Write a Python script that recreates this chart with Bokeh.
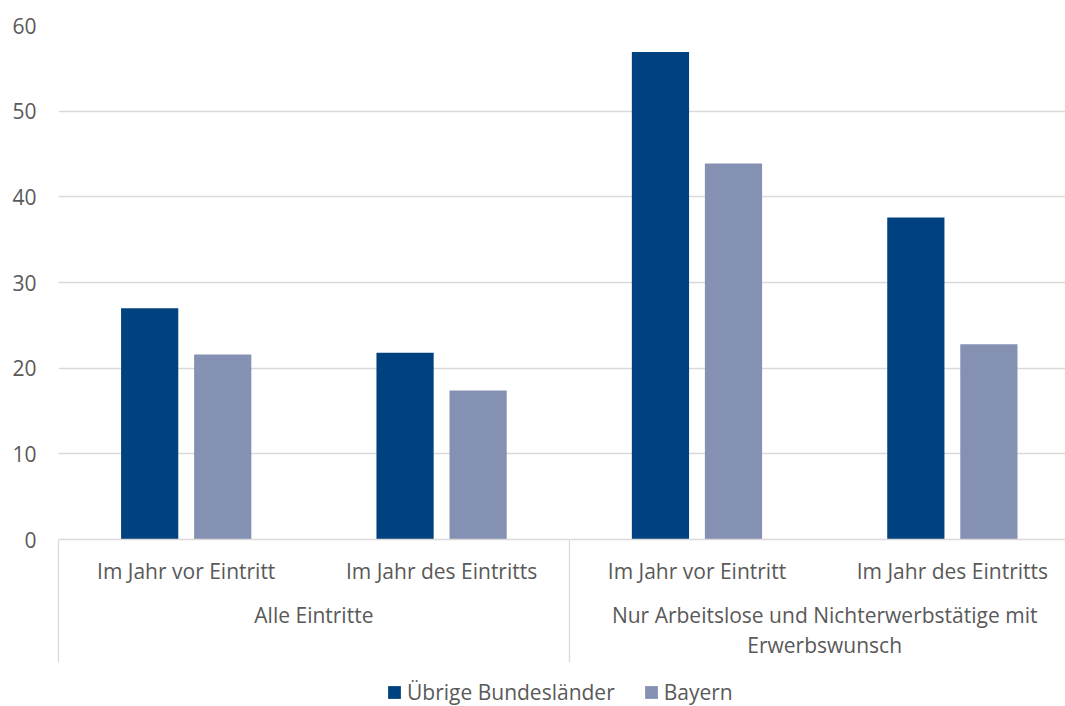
from bokeh.plotting import figure
from bokeh.layouts import column
from bokeh.models import (ColumnDataSource, FixedTicker, LinearAxis, Range1d,
                          Legend, LegendItem)
from bokeh.embed import file_html
from bokeh.resources import INLINE

# ---- data ----
categories = ["Im Jahr vor Eintritt", "Im Jahr des Eintritts",
              "Im Jahr vor Eintritt", "Im Jahr des Eintritts"]
groups = ["Alle Eintritte",
          "Nur Arbeitslose und Nichterwerbstätige mit\nErwerbswunsch"]
group_sizes = [2, 2]
series_names = ["Übrige Bundesländer", "Bayern"]
uebrige = [27.0, 21.8, 56.9, 37.6]
bayern = [21.6, 17.4, 43.9, 22.8]
y_ticks = [0, 10, 20, 30, 40, 50, 60]

# ---- style ----
FONT = "Open Sans"
FS = "21px"
TXT = "#595959"
GRID = "#D9D9D9"
COLORS = ["#00427F", "#8591B3"]

# each category occupies 2 x-units; centres at 1, 3, 5, 7
n = len(categories)
cat_centers = [2 * i + 1 for i in range(n)]
bounds = [0]
for g in group_sizes:
    bounds.append(bounds[-1] + 2 * g)
group_centers = [(bounds[i] + bounds[i + 1]) // 2 for i in range(len(groups))]

off = 0.286
bw = 0.448
src = ColumnDataSource(dict(
    x1=[c - off for c in cat_centers],
    x2=[c + off for c in cat_centers],
    u=uebrige, b=bayern))

p = figure(width=1065, height=664, output_backend="svg", toolbar_location=None,
           x_range=Range1d(0, 7.886), y_range=Range1d(0, 60),
           min_border_left=58, min_border_right=0, min_border_top=25,
           min_border_bottom=125, x_axis_location=None)
p.outline_line_color = None
p.background_fill_color = "white"
p.border_fill_color = "white"

r1 = p.vbar(x="x1", top="u", width=bw, source=src,
            fill_color=COLORS[0], line_color=None)
r2 = p.vbar(x="x2", top="b", width=bw, source=src,
            fill_color=COLORS[1], line_color=None)

# y axis
ya = p.yaxis[0]
ya.ticker = FixedTicker(ticks=y_ticks)
ya.major_tick_in = 0
ya.major_tick_out = 0
ya.minor_tick_in = 0
ya.minor_tick_out = 0
ya.axis_line_color = None
ya.major_label_standoff = 22
ya.major_label_text_font = FONT
ya.major_label_text_font_size = FS
ya.major_label_text_color = TXT

p.ygrid.ticker = FixedTicker(ticks=y_ticks)
p.ygrid.grid_line_color = GRID
p.ygrid.grid_line_width = 1.3
p.xgrid.visible = False

# category axis
ax1 = LinearAxis(ticker=FixedTicker(ticks=cat_centers),
                 major_label_overrides={c: l for c, l in zip(cat_centers, categories)})
ax1.axis_line_color = GRID
ax1.axis_line_width = 1.3
ax1.major_tick_in = 0
ax1.major_tick_out = 0
ax1.minor_tick_in = 0
ax1.minor_tick_out = 0
ax1.major_label_standoff = 17
ax1.major_label_text_font = FONT
ax1.major_label_text_font_size = FS
ax1.major_label_text_color = TXT
p.add_layout(ax1, "below")

# group axis
ax2 = LinearAxis(ticker=FixedTicker(ticks=group_centers),
                 major_label_overrides={c: l for c, l in zip(group_centers, groups)})
ax2.axis_line_color = None
ax2.major_tick_in = 0
ax2.major_tick_out = 0
ax2.minor_tick_in = 0
ax2.minor_tick_out = 0
ax2.major_label_standoff = 13
ax2.major_label_text_font = FONT
ax2.major_label_text_font_size = FS
ax2.major_label_text_color = TXT
ax2.major_label_text_line_height = 1.1
p.add_layout(ax2, "below")

# group separators
ax3 = LinearAxis(ticker=FixedTicker(ticks=bounds),
                 major_label_overrides={b: "" for b in bounds})
ax3.axis_line_color = None
ax3.major_tick_in = 122
ax3.major_tick_out = 0
ax3.minor_tick_in = 0
ax3.minor_tick_out = 0
ax3.major_tick_line_color = GRID
ax3.major_tick_line_width = 1.3
ax3.major_label_standoff = 0
ax3.major_label_text_font_size = "1px"
p.add_layout(ax3, "below")

# legend strip below the chart (bars kept out of its visible range)
q = figure(width=1065, height=42, output_backend="svg", toolbar_location=None,
           x_range=Range1d(0, 1), y_range=Range1d(1000, 1001),
           min_border=0, x_axis_location=None, y_axis_location=None)
q.outline_line_color = None
q.xgrid.visible = False
q.ygrid.visible = False
q.background_fill_color = "white"
q.border_fill_color = "white"
lr1 = q.vbar(x="x1", top="u", width=bw, source=src,
             fill_color=COLORS[0], line_color=None)
lr2 = q.vbar(x="x2", top="b", width=bw, source=src,
             fill_color=COLORS[1], line_color=None)

legend = Legend(items=[LegendItem(label=series_names[0], renderers=[lr1]),
                       LegendItem(label=series_names[1], renderers=[lr2])],
                orientation="horizontal", location=(328, 0),
                glyph_width=16, glyph_height=16, label_standoff=5, spacing=28,
                padding=0, margin=0, border_line_color=None,
                background_fill_alpha=0,
                label_text_font=FONT, label_text_font_size=FS,
                label_text_color=TXT)
q.add_layout(legend)

layout = column(p, q, spacing=0)
open("out.html", "w").write(file_html(layout, INLINE))
